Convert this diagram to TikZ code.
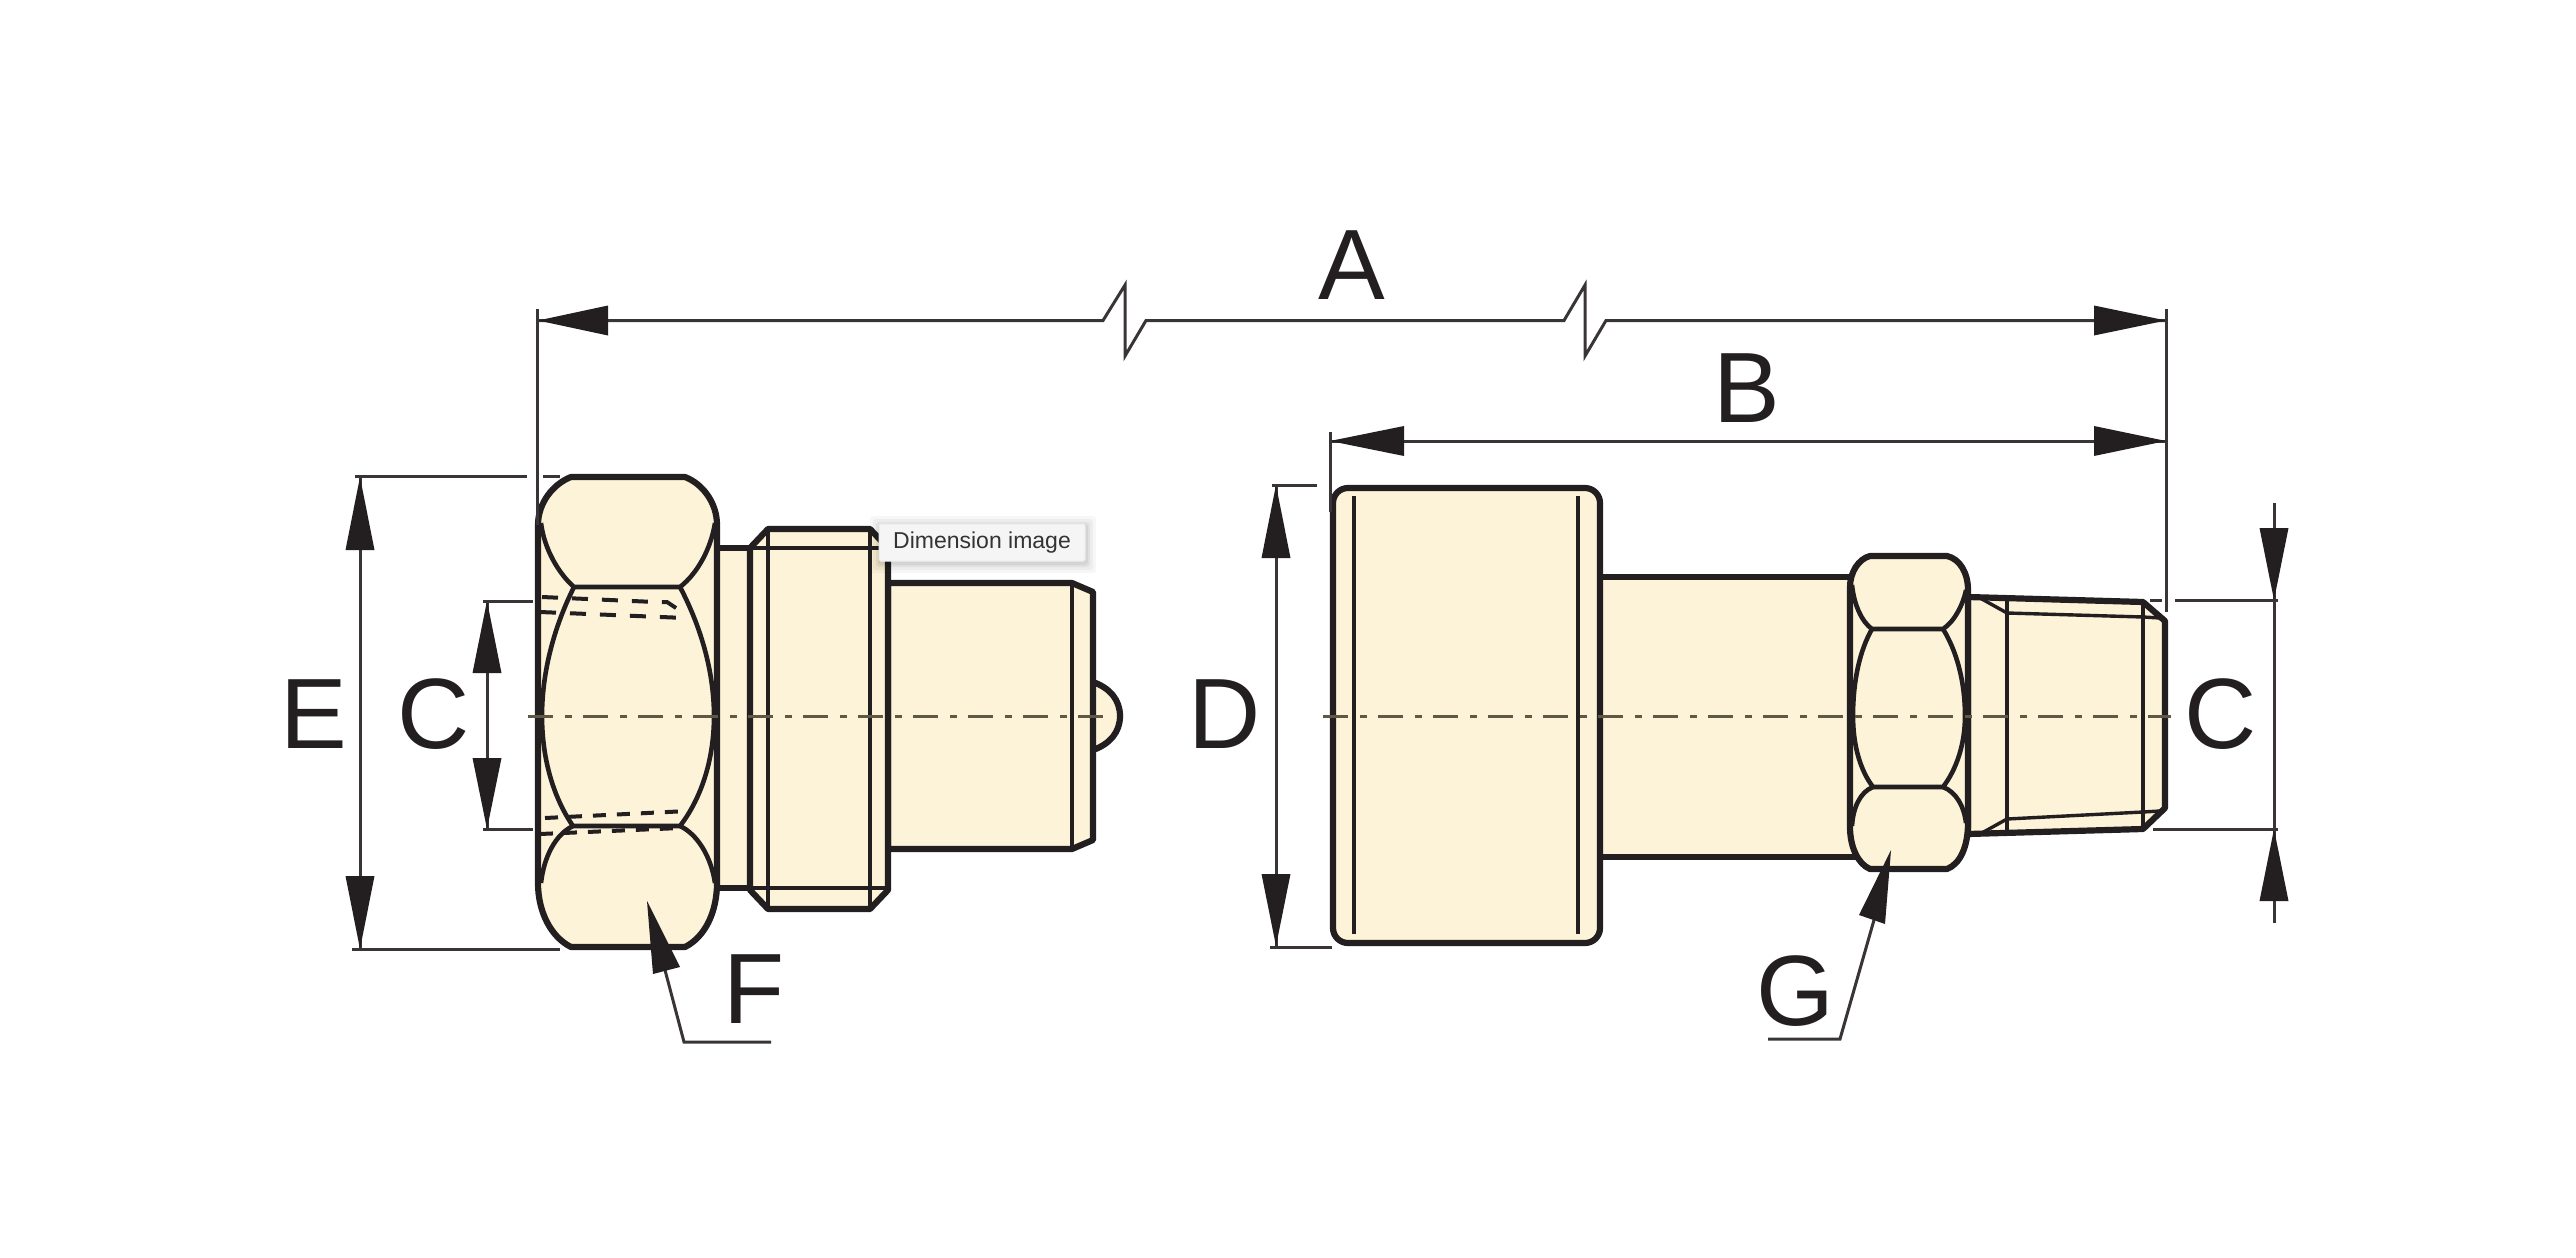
\documentclass[tikz,border=0pt]{standalone}
\usepackage{fontspec}
\setmainfont{Liberation Sans}
\definecolor{brass}{HTML}{FDF3D8}
\definecolor{ink}{HTML}{231F20}
\definecolor{axis}{HTML}{5E5845}
\definecolor{tipbg}{HTML}{F5F5F5}
\definecolor{tiptext}{HTML}{333333}
\newcommand{\vhead}[3]{\fill[ink] (#1,#2) -- (#1+14.5,#3) -- (#1-14.5,#3) -- cycle;}
\newcommand{\hhead}[3]{\fill[ink] (#2,#1) -- (#3,#1-15) -- (#3,#1+15) -- cycle;}
\tikzset{
  solid body/.style={fill=brass,draw=ink,line width=6.2pt,line join=round},
  medium/.style={draw=ink,line width=4.6pt},
  fine/.style={draw=ink,line width=3.4pt},
  hidden/.style={draw=ink,line width=4pt,dash pattern=on 16pt off 14pt},
  hiddensmall/.style={draw=ink,line width=4pt,dash pattern=on 13pt off 11pt},
  centre/.style={draw=axis,line width=3pt,dash pattern=on 25pt off 12pt on 7pt off 11pt},
  dim/.style={draw=ink!90,line width=3pt},
  letter/.style={font=\fontsize{100}{100}\selectfont,text=ink,inner sep=0pt,anchor=center},
}
\begin{document}
\begin{tikzpicture}[x=1pt,y=-1pt]
\useasboundingbox (0,0) rectangle (2576,1258);
%%% ------- left part
% ball
\filldraw[solid body] (1093,682) .. controls (1110,688) and (1120,700) .. (1120,716) .. controls (1120,732) and (1110,744) .. (1093,750);
% pin
\filldraw[solid body] (888,583) -- (1072,583) -- (1093,592) -- (1093,840) -- (1072,849) -- (888,849) -- cycle;
\draw[medium] (1072,583) -- (1072,849);
% neck
\filldraw[solid body] (717,548) -- (750,548) -- (750,888) -- (717,888) -- cycle;
% threaded collar
\filldraw[solid body] (750,548) -- (768,529) -- (870,529) -- (888,548) -- (888,890) -- (870,909) -- (768,909) -- (750,890) -- cycle;
\draw[medium] (768,529) -- (768,909) (870,529) -- (870,909);
\draw[fine] (750,548) -- (888,548) (750,888) -- (888,888);
% hexagon
\filldraw[solid body] (571,477) -- (685,477) .. controls (703,484) and (717,503) .. (717,525) -- (717,883) .. controls (717,912) and (705,937) .. (685,947) -- (571,947) .. controls (551,937) and (538,912) .. (538,883) -- (538,525) .. controls (538,503) and (553,484) .. (571,477) -- cycle;
\draw[medium,line join=round] (541,523) .. controls (544,548) and (558,573) .. (574,587) -- (680,587) .. controls (698,573) and (711,548) .. (715,523);
\draw[medium,line join=round] (574,587) .. controls (555,625) and (542,670) .. (542,716) .. controls (542,762) and (555,800) .. (573,826) -- (680,826) .. controls (700,800) and (714,762) .. (714,716) .. controls (714,670) and (700,625) .. (680,587);
\draw[medium,line join=round] (573,826) .. controls (556,834) and (544,856) .. (541,883);
\draw[medium,line join=round] (680,826) .. controls (697,834) and (711,856) .. (715,883);
\draw[hidden] (542,597) -- (655,602) -- (667,602) -- (682,612);
\draw[hidden] (540,612) -- (685,618);
\draw[hiddensmall] (545,818) -- (688,811);
\draw[hiddensmall] (540,834) -- (680,828);
%%% ------- right part
% body
\filldraw[solid body] (1600,577) -- (1855,577) -- (1855,857) -- (1600,857) -- cycle;
\filldraw[solid body,rounded corners=15pt] (1333,488) -- (1600,488) -- (1600,943) -- (1333,943) -- cycle;
\draw[medium] (1354,496) -- (1354,934) (1578,496) -- (1578,934);
% threaded tip
\filldraw[solid body] (1968,597) -- (2143,602) -- (2165,621) -- (2165,808) -- (2143,829) -- (1968,834) -- cycle;
\draw[medium] (2007,598) -- (2007,834) (2143,602) -- (2143,829);
\draw[fine] (1980,598) -- (2007,613) -- (2143,617) -- (2160,618);
\draw[fine] (1980,834) -- (2007,819) -- (2143,812) -- (2160,811);
\draw[fine] (2143,829) -- (2163,810);
% hexagon
\filldraw[solid body] (1870,556) -- (1947,556) .. controls (1960,559) and (1968,573) .. (1968,590) -- (1968,823) .. controls (1968,847) and (1960,864) .. (1947,869) -- (1870,869) .. controls (1858,864) and (1850,847) .. (1850,827) -- (1850,587) .. controls (1850,573) and (1858,559) .. (1870,556) -- cycle;
\draw[medium,line join=round] (1852,585) .. controls (1854,605) and (1862,622) .. (1872,629) -- (1943,629) .. controls (1954,622) and (1963,605) .. (1966,590);
\draw[medium,line join=round] (1872,629) .. controls (1860,650) and (1853,680) .. (1853,716) .. controls (1853,745) and (1860,770) .. (1873,787) -- (1943,787) .. controls (1956,770) and (1965,745) .. (1965,716) .. controls (1965,680) and (1956,650) .. (1943,629);
\draw[medium,line join=round] (1873,787) .. controls (1860,792) and (1853,808) .. (1852,826);
\draw[medium,line join=round] (1943,787) .. controls (1956,792) and (1964,806) .. (1966,823);
%%% ------- centre lines
\coordinate (cl1) at (528.3,716); \coordinate (cl2) at (1105,716);
\coordinate (cr1) at (1323,716); \coordinate (cr2) at (2171,716);
\draw[centre] (cl1) -- (cl2);
\draw[centre] (cr1) -- (cr2);
%%% ------- dimension A
\coordinate (aL) at (538,320.5); \coordinate (aR) at (2166,320.5);
\draw[dim,line join=miter] (aL) -- (1103,320.5) -- (1125,285) -- (1125,356) -- (1146,320.5) -- (1564,320.5) -- (1585,285) -- (1585,356) -- (1606,320.5) -- (aR);
\hhead{320.5}{538}{608}
\hhead{320.5}{2166}{2094}
\draw[dim] (537.5,309) -- (537.5,525);
\draw[dim] (2166,309) -- (2166,612);
%%% ------- dimension B
\coordinate (bL) at (1330,441); \coordinate (bR) at (2166,441);
\draw[dim] (bL) -- (bR);
\hhead{441}{1330}{1404}
\hhead{441}{2166}{2094}
\draw[dim] (1330,432) -- (1330,512);
%%% ------- dimension D
\coordinate (dT) at (1276,485); \coordinate (dB) at (1276,946);
\draw[dim] (dT) -- (dB);
\vhead{1276}{485}{558}
\vhead{1276}{946}{874}
\draw[dim] (1272,485) -- (1317,485);
\draw[dim] (1270,947) -- (1332,947);
%%% ------- dimension C right
\coordinate (crT) at (2274,503); \coordinate (crB) at (2274,923);
\draw[dim] (crT) -- (crB);
\vhead{2274}{600}{528}
\vhead{2274}{829}{901}
\draw[dim] (2150,600) -- (2162,600) (2175,600) -- (2278,600);
\draw[dim] (2153,829) -- (2278,829);
%%% ------- dimension E
\coordinate (eT) at (360,477); \coordinate (eB) at (360,949);
\draw[dim] (eT) -- (eB);
\vhead{360}{477}{550}
\vhead{360}{949}{876}
\draw[dim] (355,476) -- (527,476) (543,476) -- (560,476);
\draw[dim] (352,949) -- (560,949);
%%% ------- dimension C left
\coordinate (clT) at (487,601); \coordinate (clB) at (487,829);
\draw[dim] (clT) -- (clB);
\vhead{487}{601}{673}
\vhead{487}{829}{758}
\draw[dim] (483,601) -- (533,601);
\draw[dim] (483,829) -- (533,829);
%%% ------- leaders
\coordinate (fTip) at (647,901); \coordinate (fBase) at (665,970);
\coordinate (fK) at (684,1042); \coordinate (fEnd) at (771,1042);
\draw[dim] (fBase) -- (fK) -- (fEnd);
\fill[ink] (fTip) -- (680,967) -- (653,974) -- cycle;
\coordinate (gTip) at (1891,850); \coordinate (gBase) at (1874,920);
\coordinate (gK) at (1840,1039); \coordinate (gEnd) at (1768,1039);
\draw[dim] (gBase) -- (gK) -- (gEnd);
\fill[ink] (gTip) -- (1885,924) -- (1859,915) -- cycle;
%%% ------- letters
\node[letter] (la) at (1352,265) {A};
\node[letter] (lb) at (1747,388) {B};
\node[letter] (ld) at (1225,714) {D};
\node[letter] (le) at (314,714) {E};
\node[letter] (lcl) at (434,714) {C};
\node[letter] (lcr) at (2221,714) {C};
\node[letter] (lf) at (754,989) {F};
\node[letter] (lg) at (1795,991) {G};
%%% ------- tooltip
\foreach \s/\o in {10/0.03,7/0.04,4/0.05,2/0.06}{
  \fill[black,opacity=\o,rounded corners=3pt] (880-\s,523-\s+3) rectangle (1086+\s,560+\s+3);
}
\node[draw=black!8,fill=tipbg,rounded corners=1.5pt,line width=1pt,minimum width=206pt,minimum height=37pt,inner sep=0pt,text=tiptext,font=\fontsize{23}{23}\selectfont] (tip) at (982,542.5) {Dimension image};
\end{tikzpicture}
\end{document}
